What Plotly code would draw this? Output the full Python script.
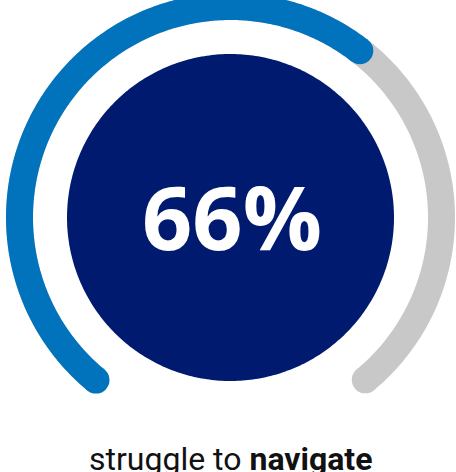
import numpy as np
import plotly.graph_objects as go

# data
value = [66]
max_value = [100]
label_main = ["66%"]
label_sub = ["struggle to <b>navigate</b>"]

# styling / geometry constants
W, H = 456, 472
CX, CY = 230.5, 217.5          # center in pixels (from top-left)
R_ARC = 211
ARC_W = 27
R_IN = 163.5
START = 230.4                  # degrees (math convention)
TRACK_END = -50.3
SCALE_SWEEP = 270.0
BLUE = "#0073BC"
GREY = "#C8C8C8"
NAVY = "#001A70"

def arc(a0, a1, r, n=300):
    t = np.radians(np.linspace(a0, a1, n))
    return r * np.cos(t), r * np.sin(t)

fig = go.Figure()

# track
tx, ty = arc(START, TRACK_END, R_ARC)
fig.add_trace(go.Scatter(x=tx, y=ty, mode="lines",
                         line=dict(color=GREY, width=ARC_W, simplify=False),
                         hoverinfo="skip", showlegend=False))
fig.add_trace(go.Scatter(x=[tx[-1]], y=[ty[-1]], mode="markers",
                         marker=dict(color=GREY, size=ARC_W, line=dict(width=0)),
                         hoverinfo="skip", showlegend=False))

# value arc
v_end = START - value[0] / max_value[0] * SCALE_SWEEP
vx, vy = arc(START, v_end, R_ARC)
fig.add_trace(go.Scatter(x=vx, y=vy, mode="lines",
                         line=dict(color=BLUE, width=ARC_W, simplify=False),
                         hoverinfo="skip", showlegend=False))
fig.add_trace(go.Scatter(x=[vx[0], vx[-1]], y=[vy[0], vy[-1]], mode="markers",
                         marker=dict(color=BLUE, size=ARC_W, line=dict(width=0)),
                         hoverinfo="skip", showlegend=False))

# inner disc
cx_, cy_ = arc(0, 360, R_IN, 400)
fig.add_trace(go.Scatter(x=cx_, y=cy_, mode="lines", fill="toself", fillcolor=NAVY,
                         line=dict(width=0, color=NAVY, simplify=False),
                         hoverinfo="skip", showlegend=False))

fig.add_annotation(x=1, y=2, text=label_main[0], showarrow=False,
                   font=dict(family="Open Sans", size=88, color="white", weight=700),
                   xanchor="center", yanchor="middle")
fig.add_annotation(x=0, y=CY - 459, text=label_sub[0], showarrow=False,
                   font=dict(family="Roboto", size=32, color="#111111"),
                   xanchor="center", yanchor="middle")

fig.update_layout(
    width=W, height=H, margin=dict(l=0, r=0, t=0, b=0),
    paper_bgcolor="white", plot_bgcolor="white",
    xaxis=dict(range=[-CX, W - CX], visible=False, fixedrange=True),
    yaxis=dict(range=[CY - H, CY], visible=False, fixedrange=True),
    showlegend=False,
)
fig.write_html("out.html", config={"displayModeBar": False})
